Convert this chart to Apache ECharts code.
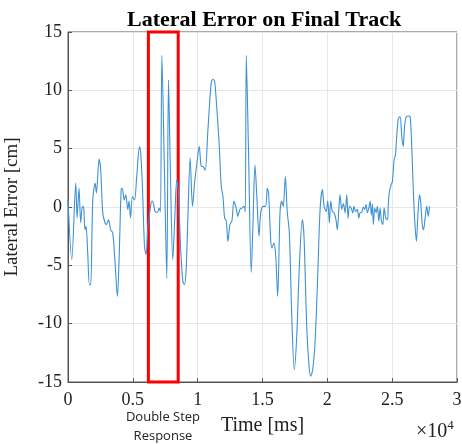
<!DOCTYPE html>
<html>
<head>
<meta charset="utf-8">
<script src="https://cdn.jsdelivr.net/npm/echarts@6/dist/echarts.min.js"></script>
<style>
  html, body { margin: 0; padding: 0; background: #fff; }
  #chart { width: 462px; height: 444px; }
</style>
</head>
<body>
<div id="chart"></div>
<script>
// time stamps (ms) and lateral error (cm)
const timeMs = [
  0, 290, 600, 700, 850, 980, 1110, 1210, 1310, 1390, 1520, 1650, 1750, 1910, 2090, 2190, 2400, 2520, 2680, 2860,
  2970, 3120, 3300, 3450, 3630, 3810, 3940, 4100, 4190, 4330, 4460, 4610, 4710, 4820, 4970, 5130, 5300, 5510, 5610, 5740,
  5900, 6020, 6150, 6410, 6510, 6620, 6720, 6900, 7030, 7130, 7240, 7440, 7620, 7750, 7900, 8080, 8210, 8390, 8520, 8680,
  8860, 8980, 9110, 9240, 9420, 9600, 9760, 9940, 10120, 10270, 10430, 10580, 10790, 11040, 11170, 11300, 11430, 11640, 11820, 11950,
  12080, 12210, 12330, 12490, 12640, 12800, 12970, 13100, 13260, 13410, 13570, 13670, 13750, 13930, 14130, 14260, 14420, 14550, 14730, 14860,
  15060, 15240, 15370, 15470, 15630, 15730, 15880, 16020, 16170, 16350, 16480, 16600, 16760, 16910, 17070, 17250, 17450, 17640, 17840, 18070,
  18200, 18410, 18590, 18720, 18870, 19050, 19230, 19440, 19620, 19750, 19910, 20030, 20160, 20260, 20390, 20520, 20670, 20770, 20900, 20980,
  21110, 21240, 21370, 21500, 21600, 21710, 21840, 21960, 22060, 22190, 22320, 22420, 22520, 22650, 22780, 22880, 22990, 23090, 23200, 23300,
  23400, 23480, 23550, 23660, 23760, 23860, 23970, 24070, 24170, 24280, 24380, 24510, 24640, 24710, 24790, 24920, 25020, 25150, 25250, 25360,
  25480, 25610, 25740, 25850, 25950, 26080, 26260, 26390, 26520, 26640, 26750, 26870, 26980, 27110, 27210, 27320, 27420, 27540, 27670, 27780,
  27880
];
const lateralCm = [
  0.6, -4.5, 2.05, -0.95, 1.6, -1.35, 0.05, -0.05, -1.95, -1.65, -3.9, -6.65, -6.65, 0.6, 2.05, 1.2, 4.1, 3.2, -0.5, -1.37,
  -1.5, -1.1, -2.0, -2.2, -4.8, -7.65, -4.5, 1.5, 1.6, 0.6, 1.05, -0.2, 0.5, -0.95, 0.9, 0.6, 2.6, 5.15, 4.6, 1.75,
  -3.4, -4.1, -1.95, 0.35, 0.5, 0.15, -0.4, -0.45, -0.1, -0.4, 13.0, 2.9, -6.1, 10.9, 2.9, -4.5, -1.65, 2.35, 1.2, -3.4,
  -6.4, -6.65, -5.4, -1.1, 4.2, 0.05, 2.05, 3.75, 5.2, 3.5, 3.45, 3.15, 6.6, 10.6, 10.95, 10.8, 9.2, 5.75, 1.75, 0.9,
  -0.95, -1.2, -2.95, -1.5, -1.2, 0.5, -0.1, -0.8, -0.2, -0.1, 0.05, -0.4, 13.0, 4.3, -5.6, -1.65, 3.6, 1.2, -2.5, -0.5,
  0.05, 0.05, 1.6, 1.2, -2.8, -3.5, -3.1, -4.2, -7.65, -0.5, 0.5, 0.05, 2.6, -0.4, -2.2, -9.1, -13.95, -11.1, -5.1, -1.1,
  -2.5, -10.2, -13.65, -14.5, -13.95, -11.65, -6.8, -0.25, 1.5, 0.05, -0.4, 0.5, -1.37, 0.5, -0.4, -0.5, -1.1, -1.95, 0.05, 1.05,
  -0.2, 0.3, -0.5, 1.05, -0.95, 0.05, -0.1, -0.5, 0.05, -0.4, -0.2, -0.95, -0.5, -0.45, 0, -0.2, 0.2, -0.5, -0.1, 0.5,
  -0.7, 0.25, -1.5, -0.1, -0.5, 0.05, -1.2, -0.1, -1.2, -1.5, -0.1, -0.95, -1.1, 0.35, 1.35, 1.9, 2.2, 4.05, 4.45, 6.2,
  7.6, 7.75, 6.05, 5.2, 6.8, 7.75, 7.8, 7.75, 4.9, 1.2, -1.37, -2.95, -0.8, 1.05, 0.3, -1.5, -1.95, -0.95, 0.05, -0.8,
  0.05
];
// highlighted window (ms) for the double step response
const highlightMs = [6200, 8500];
// tick values and their labels
const xTicks = [0, 5000, 10000, 15000, 20000, 25000, 30000];
const xTickLabels = ['0', '0.5', '1', '1.5', '2', '2.5', '3'];
const yTicks = [-15, -10, -5, 0, 5, 10, 15];

const serif = 'Liberation Serif';
const chart = echarts.init(document.getElementById('chart'), null, { renderer: 'canvas' });

const data = timeMs.map((t, i) => [t, lateralCm[i]]);

const option = {
  animation: false,
  textStyle: { fontFamily: serif },
  title: {
    text: 'Lateral Error on Final Track',
    left: 122,
    top: 4,
    textStyle: { fontFamily: serif, fontSize: 22, fontWeight: 'bold', color: '#000' }
  },
  grid: {
    left: 68, right: 5, top: 32, bottom: 62,
    outerBoundsMode: 'none',
    show: true, borderColor: '#555', borderWidth: 1
  },
  xAxis: {
    type: 'value',
    min: xTicks[0],
    max: xTicks[xTicks.length - 1],
    interval: 5000,
    name: 'Time [ms]',
    nameLocation: 'middle',
    nameGap: 34,
    nameTextStyle: { fontFamily: serif, fontSize: 20, color: '#222' },
    axisLine: { show: true, onZero: false, lineStyle: { color: '#555' } },
    axisTick: { show: true, inside: true, length: 4, lineStyle: { color: '#555' } },
    axisLabel: { show: false },
    splitLine: { show: true, lineStyle: { color: '#e6e6e6' } }
  },
  yAxis: {
    type: 'value',
    min: yTicks[0],
    max: yTicks[yTicks.length - 1],
    interval: 5,
    name: 'Lateral Error [cm]',
    nameLocation: 'middle',
    nameGap: 46,
    nameTextStyle: { fontFamily: serif, fontSize: 19, color: '#222' },
    axisLine: { show: true, onZero: false, lineStyle: { color: '#555' } },
    axisTick: { show: true, inside: true, length: 4, lineStyle: { color: '#555' } },
    axisLabel: { show: false },
    splitLine: { show: true, lineStyle: { color: '#e6e6e6' } }
  },
  series: [{
    type: 'line',
    data: data,
    showSymbol: false,
    smooth: 0.3,
    lineStyle: { color: '#3d92d4', width: 1.1 },
    markArea: {
      silent: true,
      itemStyle: { color: 'rgba(0,0,0,0)', borderColor: '#ff0000', borderWidth: 3 },
      data: [[{ xAxis: highlightMs[0], yAxis: yTicks[yTicks.length - 1] }, { xAxis: highlightMs[1], yAxis: yTicks[0] }]]
    }
  }]
};
chart.setOption(option);

// tick labels placed from the axis scale
const labelStyle = { fontFamily: serif, fontSize: 18, fill: '#222' };
const graphics = [];
xTicks.forEach((v, i) => {
  const p = chart.convertToPixel({ gridIndex: 0 }, [v, yTicks[0]]);
  graphics.push({ type: 'text', x: p[0], y: p[1] + 9,
    style: Object.assign({ text: xTickLabels[i], textAlign: 'center', textVerticalAlign: 'top' }, labelStyle) });
});
yTicks.forEach(v => {
  const p = chart.convertToPixel({ gridIndex: 0 }, [xTicks[0], v]);
  graphics.push({ type: 'text', x: p[0] - 6, y: p[1],
    style: Object.assign({ text: String(v), textAlign: 'right', textVerticalAlign: 'middle' }, labelStyle) });
});
graphics.push({
  type: 'text', x: 163, y: 408,
  style: {
    text: 'Double Step\nResponse', fontFamily: 'Open Sans', fontSize: 13,
    lineHeight: 19, fill: '#222', textAlign: 'center'
  }
});
graphics.push({
  type: 'text', left: 416, top: 419,
  style: {
    text: '×10{sup|4}', fontFamily: serif, fontSize: 20, fill: '#222',
    rich: { sup: { fontFamily: serif, fontSize: 13, verticalAlign: 'top', padding: [0, 0, 12, 0] } }
  }
});
chart.setOption({ graphic: graphics });
</script>
</body>
</html>
